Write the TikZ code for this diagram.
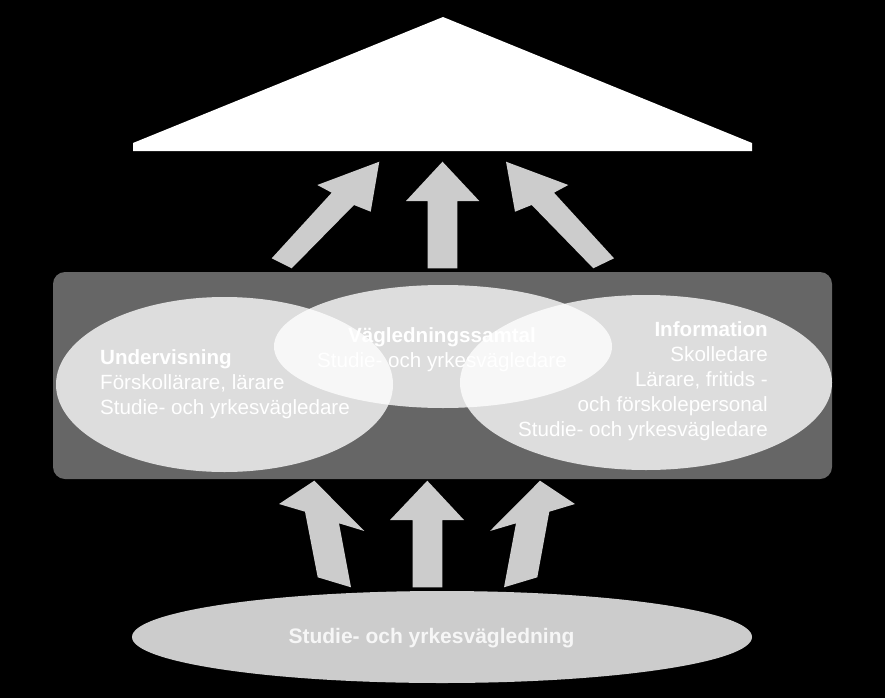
\documentclass[tikz,border=0pt]{standalone}
\usepackage{fontspec}
\setmainfont{Liberation Sans}
\usetikzlibrary{shapes.geometric}
\definecolor{arrowgray}{HTML}{CCCCCC}
\definecolor{boxgray}{HTML}{666666}
\definecolor{bottomtext}{HTML}{F6F6F6}
\tikzset{
  blockarrow/.style={fill=arrowgray, draw=none},
  panel/.style={fill=boxgray, draw=none, rounded corners=12pt, inner sep=0pt},
  lens/.style={ellipse, fill=white, fill opacity=0.78, draw=none, inner sep=0pt},
  base/.style={ellipse, fill=arrowgray, draw=none, inner sep=0pt},
  lenstext/.style={text=white, inner sep=0pt, font=\fontsize{20.6}{25}\selectfont},
}
\begin{document}
\begin{tikzpicture}[x=1pt,y=-1pt]
\fill[black] (0,0) rectangle (885,698);
\useasboundingbox (0,0) rectangle (885,698);
% roof
\fill[white] (133,151) -- (133,143) -- (443,17) -- (752,143) -- (752,151) -- cycle;
% upper arrows
\fill[blockarrow] (379.3,161.7) -- (370.7,211.7) -- (354,205) -- (291.7,268.3) -- (271.7,258.3) -- (331.7,192.7) -- (317.3,185) -- cycle;
\fill[blockarrow] (442.5,161.7) -- (479.3,201) -- (457.3,201) -- (457.3,268.3) -- (427.7,268.3) -- (427.7,201) -- (406,201) -- cycle;
\fill[blockarrow] (506,161.7) -- (568.3,185) -- (554,192.7) -- (614,258.3) -- (593.3,268.3) -- (531.7,205) -- (515,211.7) -- cycle;
% panel
\node[panel, minimum width=779pt, minimum height=207pt] (panel) at (442.5,375.5) {};
% lenses
\node[lens, minimum width=337pt, minimum height=175pt] (und) at (224.5,384.5) {};
\node[lens, minimum width=338pt, minimum height=123pt] (vag) at (443,346.5) {};
\node[lens, minimum width=372pt, minimum height=175pt] (inf) at (646,382.5) {};
% lens texts
\node[lenstext, align=left, anchor=west] (undt) at (100,384) {\textbf{Undervisning}\\Förskollärare, lärare\\Studie- och yrkesvägledare};
\node[lenstext, align=center] (vagt) at (442,350) {\textbf{Vägledningssamtal}\\Studie- och yrkesvägledare};
\node[lenstext, align=right, anchor=east] (inft) at (768,381) {\textbf{Information}\\Skolledare\\Lärare, fritids -\\och förskolepersonal\\Studie- och yrkesvägledare};
% lower arrows
\fill[blockarrow] (314.3,480.7) -- (364.3,531) -- (339,523.3) -- (351,587.3) -- (317.7,577.3) -- (305,511.7) -- (279,504) -- cycle;
\fill[blockarrow] (427.3,480.7) -- (464,520) -- (442.3,520) -- (442.3,587.3) -- (412.7,587.3) -- (412.7,520) -- (390,520) -- cycle;
\fill[blockarrow] (540,480.7) -- (575,504) -- (549.3,511.7) -- (537.3,577.3) -- (504,587.3) -- (516,523.3) -- (490,531) -- cycle;
% base
\node[base, minimum width=620pt, minimum height=92pt] (svl) at (442,637) {};
\node[text=bottomtext, inner sep=0pt, font=\fontsize{21}{24}\selectfont\bfseries] (svlt) at (431.5,638) {Studie- och yrkesvägledning};
\end{tikzpicture}
\end{document}
